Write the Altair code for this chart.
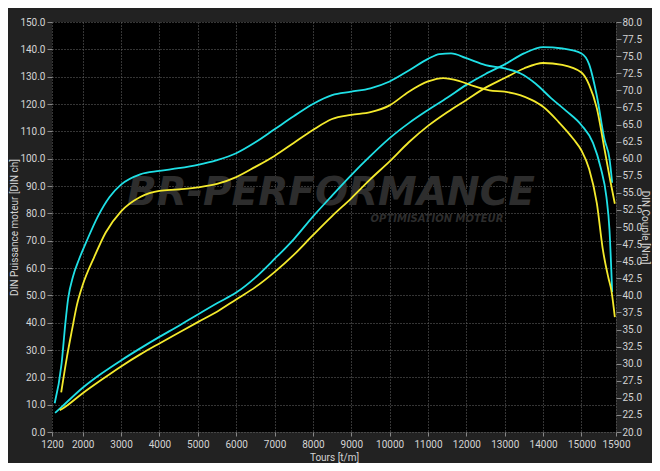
import altair as alt
import pandas as pd

# ---------------- data ----------------
x_ticks = [1200, 2000, 3000, 4000, 5000, 6000, 7000, 8000, 9000, 10000,
           11000, 12000, 13000, 14000, 15000, 15900]
left_ticks = [0, 10, 20, 30, 40, 50, 60, 70, 80, 90, 100, 110, 120, 130, 140, 150]
right_ticks = [20.0, 22.5, 25.0, 27.5, 30.0, 32.5, 35.0, 37.5, 40.0, 42.5, 45.0,
               47.5, 50.0, 52.5, 55.0, 57.5, 60.0, 62.5, 65.0, 67.5, 70.0, 72.5,
               75.0, 77.5, 80.0]

# Power, cyan run
rpm_pw_cyan = [1280, 1500, 2000, 2500, 3000, 3500, 4000, 4500, 5000, 5500, 6000,
               6500, 7000, 7500, 8000, 8500, 9000, 9500, 10000, 10500, 11000,
               11500, 12000, 12500, 13000, 13500, 14000, 14500, 15000, 15200,
               15400, 15600, 15730, 15800]
pw_cyan = [7.0, 9.8, 16.2, 21.5, 26.2, 30.6, 34.8, 38.8, 43.0, 47.1, 51.0,
           56.5, 63.3, 70.5, 78.8, 86.5, 94.0, 101.0, 107.5, 113.0, 117.8,
           122.3, 127.0, 131.0, 134.5, 138.5, 140.8, 140.3, 138.5, 134.5,
           123.0, 107.0, 100.0, 91.2]

# Power, yellow run
rpm_pw_yel = [1400, 1500, 2000, 2500, 3000, 3500, 4000, 4500, 5000, 5500, 6000,
              6500, 7000, 7500, 8000, 8500, 9000, 9500, 10000, 10500, 11000,
              11500, 12000, 12500, 13000, 13500, 14000, 14500, 15000, 15200,
              15400, 15600, 15750, 15870]
pw_yel = [8.0, 8.8, 14.2, 19.2, 24.0, 28.4, 32.4, 36.3, 40.2, 44.0, 48.5,
          53.0, 58.5, 64.8, 72.0, 79.0, 85.5, 92.5, 99.0, 106.0, 112.0,
          117.0, 121.5, 126.0, 129.5, 133.0, 135.0, 134.3, 131.5, 127.0,
          118.5, 103.5, 92.0, 83.5]

# Torque, cyan run
rpm_tq_cyan = [1270, 1450, 1550, 1620, 1750, 1900, 2100, 2400, 2700, 3000, 3500,
               4000, 4500, 5000, 5500, 6000, 6500, 7000, 7500, 8000, 8500, 9000,
               9500, 10000, 10500, 11000, 11300, 11600, 12000, 12500, 13000,
               13400, 13800, 14200, 14600, 15000, 15300, 15500, 15650, 15730,
               15800]
tq_cyan = [24.2, 30.0, 36.0, 39.5, 42.8, 45.2, 47.9, 51.6, 54.4, 56.2, 57.7,
           58.2, 58.6, 59.1, 59.8, 60.8, 62.4, 64.3, 66.2, 68.0, 69.3, 69.8,
           70.3, 71.3, 72.9, 74.6, 75.3, 75.4, 74.7, 73.7, 73.2,
           72.5, 71.0, 68.9, 67.0, 64.9, 62.3, 58.7, 54.4, 49.6,
           40.5]

# Torque, yellow run
rpm_tq_yel = [1440, 1590, 1720, 1850, 2000, 2300, 2600, 3000, 3500, 4000, 4500,
              5000, 5500, 6000, 6500, 7000, 7500, 8000, 8500, 9000, 9500, 10000,
              10500, 11000, 11400, 11800, 12200, 12600, 13000, 13400, 13700,
              14000, 14400, 14800, 15000, 15200, 15400, 15560, 15700, 15780,
              15870]
tq_yel = [25.8, 31.0, 34.9, 38.6, 41.5, 45.6, 49.2, 52.3, 54.4, 55.3, 55.5,
          55.8, 56.3, 57.3, 58.8, 60.4, 62.3, 64.2, 65.8, 66.4, 66.8, 67.8,
          69.8, 71.3, 71.8, 71.4, 70.6, 70.0, 69.8, 69.3, 68.6,
          67.6, 65.4, 62.8, 61.2, 58.5, 53.5, 46.6, 42.6, 40.7,
          36.8]

series_names = ["cyan", "jaune"]
series_colors = ["#1fe0e6", "#f4ea2c"]


def frame(rpms, vals, name):
    return pd.DataFrame({"rpm": rpms, "val": vals, "serie": name})


power_df = pd.concat([frame(rpm_pw_cyan, pw_cyan, "cyan"),
                      frame(rpm_pw_yel, pw_yel, "jaune")], ignore_index=True)
torque_df = pd.concat([frame(rpm_tq_cyan, tq_cyan, "cyan"),
                       frame(rpm_tq_yel, tq_yel, "jaune")], ignore_index=True)

FONT = "Roboto"
LBL = "#d4d4d4"
GRID = "#6a6a6a"

color = alt.Color("serie:N", scale=alt.Scale(domain=series_names, range=series_colors),
                  legend=None)

x_axis = alt.Axis(values=x_ticks, format="d", title="Tours [t/m]",
                  grid=True, gridColor=GRID, gridDash=[1, 2],
                  gridWidth=1, domain=False, tickColor="#888",
                  tickSize=4, labelPadding=3, titlePadding=3,
                  labelFlush=False)
x_scale = alt.Scale(domain=[1200, 15900], nice=False, zero=False)

power = alt.Chart(power_df).mark_line(strokeWidth=1.8, interpolate="monotone").encode(
    x=alt.X("rpm:Q", scale=x_scale, axis=x_axis),
    y=alt.Y("val:Q", scale=alt.Scale(domain=[0, 150], nice=False),
            axis=alt.Axis(values=left_ticks, format=".1f", orient="left",
                          title="DIN Puissance moteur [DIN ch]", grid=True,
                          gridColor=GRID, gridDash=[1, 2], gridWidth=1,
                          domain=False, tickColor="#888", tickSize=5,
                          labelPadding=2, titlePadding=0)),
    color=color,
    detail="serie:N",
)

torque = alt.Chart(torque_df).mark_line(strokeWidth=1.8, interpolate="monotone").encode(
    x=alt.X("rpm:Q", scale=x_scale, axis=x_axis),
    y=alt.Y("val:Q", scale=alt.Scale(domain=[20, 80], nice=False, zero=False),
            axis=alt.Axis(values=right_ticks, format=".1f", orient="right",
                          title="DIN Couple [Nm]", grid=False, domain=False,
                          tickColor="#888", tickSize=5, labelPadding=1,
                          titlePadding=-2)),
    color=color,
    detail="serie:N",
)

wm1 = alt.Chart(pd.DataFrame({"t": ["BR-PERFORMANCE"]})).mark_text(
    font="DejaVu Sans", fontSize=39, fontWeight="bold", fontStyle="italic",
    color="#2d2d2d", align="center", baseline="alphabetic"
).encode(x=alt.value(279), y=alt.value(183), text="t:N")

wm2 = alt.Chart(pd.DataFrame({"t": ["OPTIMISATION MOTEUR"]})).mark_text(
    font="DejaVu Sans", fontSize=10, fontWeight="bold", fontStyle="italic",
    color="#2d2d2d", align="center", baseline="alphabetic"
).encode(x=alt.value(385), y=alt.value(200), text="t:N")

chart = alt.layer(wm1, wm2, power, torque).resolve_scale(
    y="independent"
).properties(
    width=564, height=410,
    autosize=alt.AutoSizeParams(type="none"),
    padding={"left": 44, "top": 14, "right": 36, "bottom": 31},
    background="#222222",
).configure_view(
    fill="#000000", strokeWidth=0
).configure_axis(
    labelFont=FONT, labelFontSize=10, labelColor=LBL,
    titleFont=FONT, titleFontSize=10, titleColor=LBL, titleFontWeight="normal",
)

chart.save("out.html", embed_options={"renderer": "svg", "actions": False})
